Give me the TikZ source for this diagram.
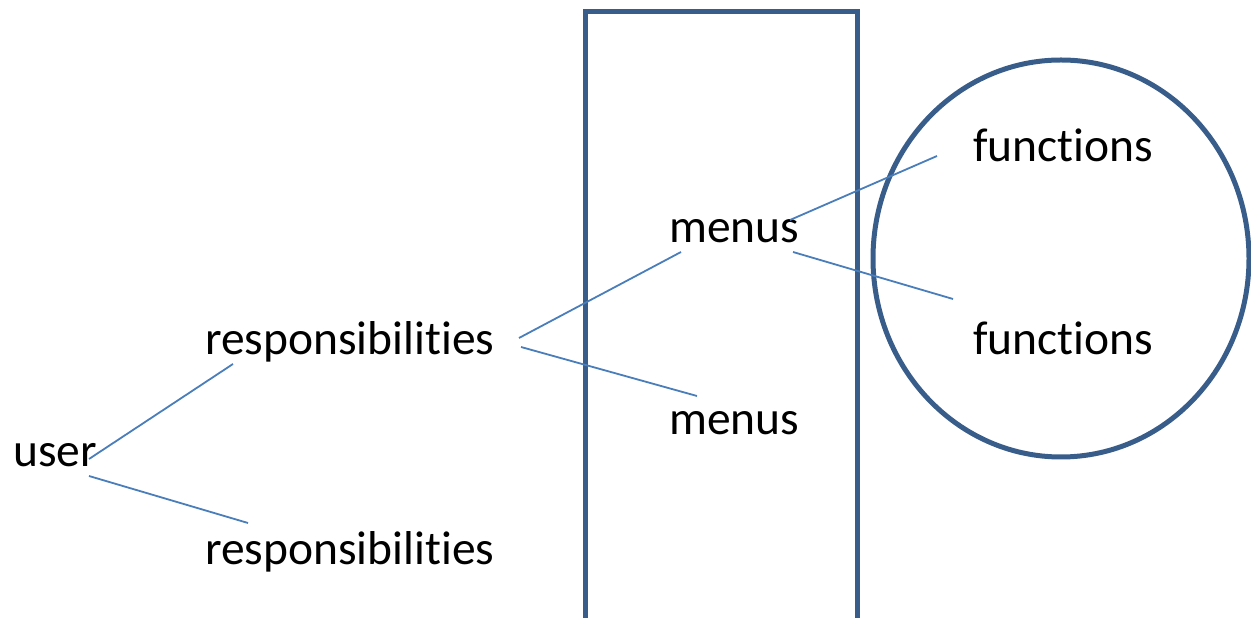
\documentclass[tikz,border=0pt]{standalone}
\usepackage{fontspec}
\setmainfont{Carlito}[Ligatures={NoCommon}]
\definecolor{shapeblue}{RGB}{56,93,138}
\definecolor{lineblue}{RGB}{74,126,187}
\begin{document}
\begin{tikzpicture}[x=1pt,y=1pt,
  lbl/.style={anchor=base west,inner sep=0pt,font=\fontsize{47.5}{56}\selectfont},
  conn/.style={draw=lineblue,line width=1.8pt},
  outline/.style={draw=shapeblue,line width=5pt}]
\useasboundingbox (0,0) rectangle (1251,618);
\clip (0,0) rectangle (1251,618);
% shapes
\draw[outline] (585,-10) rectangle (857,606);
\draw[outline] (1061,359.5) ellipse [x radius=188, y radius=198.5];
% labels
\node[lbl] (user) at (13,151) {user};
\node[lbl] (resp1) at (205,263) {responsibilities};
\node[lbl] (resp2) at (205,53) {responsibilities};
\node[lbl] (menus1) at (669,375) {menus};
\node[lbl] (menus2) at (669,183) {menus};
\node[lbl] (func1) at (973,456) {functions};
\node[lbl] (func2) at (973,263) {functions};
% connector end points
\coordinate (u1) at (89,159);
\coordinate (r1a) at (233,254);
\coordinate (u2) at (89,142);
\coordinate (r2a) at (248,95);
\coordinate (ra1) at (519,280);
\coordinate (m1a) at (681,366);
\coordinate (ra2) at (521,271);
\coordinate (m2a) at (697,222);
\coordinate (m1b) at (790,398);
\coordinate (f1a) at (937,462);
\coordinate (m1c) at (793,366);
\coordinate (f2a) at (953,319);
% connectors
\draw[conn] (u1) -- (r1a);
\draw[conn] (u2) -- (r2a);
\draw[conn] (ra1) -- (m1a);
\draw[conn] (ra2) -- (m2a);
\draw[conn] (m1b) -- (f1a);
\draw[conn] (m1c) -- (f2a);
\end{tikzpicture}
\end{document}
